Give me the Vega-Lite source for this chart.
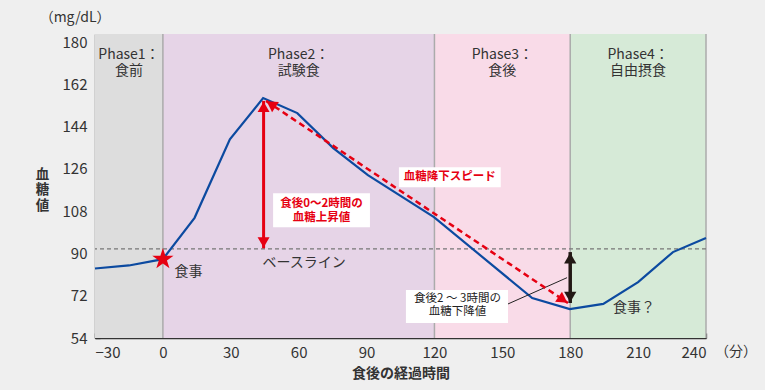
{
  "$schema": "https://vega.github.io/schema/vega-lite/v6.json",
  "width": 611,
  "height": 304,
  "autosize": {"type": "none"},
  "padding": {"left": 95, "top": 34, "right": 59, "bottom": 52},
  "background": "#efefef",
  "config": {
    "view": {"stroke": null},
    "font": "Noto Sans CJK JP",
    "axis": {
      "grid": false,
      "domainColor": "#333333",
      "domainWidth": 1.3,
      "tickColor": "#333333",
      "tickWidth": 1.3,
      "tickSize": -5,
      "labelFont": "Noto Sans CJK JP",
      "labelFontSize": 15,
      "labelColor": "#333333",
      "titleFont": "Noto Sans CJK JP",
      "titleFontSize": 14,
      "titleFontWeight": "bold",
      "titleColor": "#333333"
    }
  },
  "datasets": {
    "phases": [
      {"s": -30, "e": 0, "phase": "p1"},
      {"s": 0, "e": 120, "phase": "p2"},
      {"s": 120, "e": 180, "phase": "p3"},
      {"s": 180, "e": 240, "phase": "p4"}
    ],
    "bounds": [{"x": 0}, {"x": 120}, {"x": 180}, {"x": 240}],
    "glucose": [
      {"x": -30, "y": 83.6},
      {"x": -15, "y": 84.9},
      {"x": 0, "y": 87.6},
      {"x": 14, "y": 105.2},
      {"x": 29.6, "y": 138.6},
      {"x": 44.3, "y": 156.2},
      {"x": 59.4, "y": 149.8},
      {"x": 75.3, "y": 134.9},
      {"x": 90.6, "y": 123.4},
      {"x": 119.8, "y": 105.5},
      {"x": 163.2, "y": 71.0},
      {"x": 179.8, "y": 66.3},
      {"x": 194.6, "y": 68.5},
      {"x": 210, "y": 77.8},
      {"x": 225.4, "y": 90.6},
      {"x": 240, "y": 96.6}
    ],
    "baseline": [{"y": 92}],
    "boxes": [
      {"x": 48.7, "x2": 91.5, "y": 115.7, "y2": 101.2},
      {"x": 104.3, "x2": 149.3, "y": 126.7, "y2": 118.2},
      {"x": 107.4, "x2": 152.5, "y": 74.4, "y2": 60.4}
    ],
    "redArrow": [{"x": 44.5, "y": 155, "y2": 92.2}],
    "blackArrow": [{"x": 180, "y": 90.6, "y2": 68.9}],
    "speed": [{"x": 45.6, "y": 155, "x2": 179.0, "y2": 68.9}],
    "leader": [{"x": 152.5, "y": 68.5, "x2": 178.6, "y2": 79.7}],
    "meal": [{"x": 0, "y": 87.6}],
    "phaseLabels": [
      {"x": -15, "y": 174.6, "t": "Phase1："},
      {"x": -15, "y": 167.6, "t": "食前"},
      {"x": 60, "y": 174.6, "t": "Phase2："},
      {"x": 60, "y": 167.6, "t": "試験食"},
      {"x": 150, "y": 174.6, "t": "Phase3："},
      {"x": 150, "y": 167.6, "t": "食後"},
      {"x": 210, "y": 174.6, "t": "Phase4："},
      {"x": 210, "y": 167.6, "t": "自由摂食"}
    ],
    "redLabels": [
      {"x": 70.1, "y": 110.9, "t": "食後0～2時間の"},
      {"x": 70.1, "y": 105.1, "t": "血糖上昇値"},
      {"x": 126.8, "y": 122.6, "t": "血糖降下スピード"}
    ],
    "blackLabels": [
      {"x": 130.2, "y": 70.8, "t": "食後2 ～ 3時間の"},
      {"x": 130.2, "y": 64.9, "t": "血糖下降値"}
    ],
    "notes": [
      {"x": 62.4, "y": 85.9, "t": "ベースライン"},
      {"x": 11.3, "y": 82.0, "t": "食事"},
      {"x": 208.2, "y": 66.6, "t": "食事？"},
      {"x": -38.8, "y": 190.2, "t": "（mg/dL）"},
      {"x": 253.3, "y": 48.0, "t": "（分）"}
    ]
  },
  "layer": [
    {
      "data": {"name": "phases"},
      "mark": {"type": "rect"},
      "encoding": {
        "x": {"field": "s", "type": "quantitative", "scale": {"domain": [-30, 240], "nice": false, "zero": false},
          "axis": {"values": [-30, 0, 30, 60, 90, 120, 150, 180, 210, 240], "title": "食後の経過時間",
            "labelPadding": 12, "titlePadding": 6,
            "labelExpr": "datum.value < 0 ? '−' + abs(datum.value) : '' + datum.value"}},
        "x2": {"field": "e"},
        "color": {"field": "phase", "type": "nominal", "legend": null,
          "scale": {"domain": ["p1", "p2", "p3", "p4"], "range": ["#dddddd", "#e6d4e7", "#f9dbe8", "#d6ead7"]}}
      }
    },
    {
      "data": {"name": "bounds"},
      "mark": {"type": "rule", "color": "#ababab", "strokeWidth": 1.5},
      "encoding": {"x": {"field": "x", "type": "quantitative", "title": "食後の経過時間"}}
    },
    {
      "data": {"name": "baseline"},
      "mark": {"type": "rule", "color": "#777777", "strokeWidth": 1.3, "strokeDash": [4, 3]},
      "encoding": {"y": {"field": "y", "type": "quantitative", "scale": {"domain": [54, 183.5], "nice": false, "zero": false},
          "axis": {"values": [54, 72, 90, 108, 126, 144, 162, 180], "title": ["血", "糖", "値"],
            "titleAngle": 0, "titleX": -53, "titleY": 133, "titleAlign": "center", "titleBaseline": "top",
            "titleFontSize": 13.5, "titleLineHeight": 15.5, "labelPadding": 13}}}
    },
    {
      "data": {"name": "glucose"},
      "mark": {"type": "line", "color": "#0c4aa0", "strokeWidth": 2.2},
      "encoding": {
        "x": {"field": "x", "type": "quantitative", "title": "食後の経過時間"},
        "y": {"field": "y", "type": "quantitative", "title": ["血", "糖", "値"]}
      }
    },
    {
      "data": {"name": "boxes"},
      "mark": {"type": "rect", "color": "#ffffff"},
      "encoding": {
        "x": {"field": "x", "type": "quantitative", "title": "食後の経過時間"},
        "x2": {"field": "x2"},
        "y": {"field": "y", "type": "quantitative", "title": ["血", "糖", "値"]},
        "y2": {"field": "y2"}
      }
    },
    {
      "data": {"name": "leader"},
      "mark": {"type": "rule", "color": "#222222", "strokeWidth": 1},
      "encoding": {
        "x": {"field": "x", "type": "quantitative", "title": "食後の経過時間"},
        "x2": {"field": "x2"},
        "y": {"field": "y", "type": "quantitative", "title": ["血", "糖", "値"]},
        "y2": {"field": "y2"}
      }
    },
    {
      "data": {"name": "speed"},
      "mark": {"type": "rule", "color": "#e60012", "strokeWidth": 2.5, "strokeDash": [6, 4]},
      "encoding": {
        "x": {"field": "x", "type": "quantitative", "title": "食後の経過時間"},
        "x2": {"field": "x2"},
        "y": {"field": "y", "type": "quantitative", "title": ["血", "糖", "値"]},
        "y2": {"field": "y2"}
      }
    },
    {
      "data": {"name": "speed"},
      "mark": {"type": "point", "shape": "triangle-up", "filled": true, "color": "#e60012", "opacity": 1, "size": 150, "angle": 123.8, "xOffset": -5, "yOffset": -3.3},
      "encoding": {
        "x": {"field": "x2", "type": "quantitative", "title": "食後の経過時間"},
        "y": {"field": "y2", "type": "quantitative", "title": ["血", "糖", "値"]}
      }
    },
    {
      "data": {"name": "speed"},
      "mark": {"type": "point", "shape": "triangle-up", "filled": true, "color": "#e60012", "opacity": 1, "size": 150, "angle": 303.8, "xOffset": 5, "yOffset": 3.3},
      "encoding": {
        "x": {"field": "x", "type": "quantitative", "title": "食後の経過時間"},
        "y": {"field": "y", "type": "quantitative", "title": ["血", "糖", "値"]}
      }
    },
    {
      "data": {"name": "redArrow"},
      "mark": {"type": "rule", "color": "#e60012", "strokeWidth": 3},
      "encoding": {
        "x": {"field": "x", "type": "quantitative", "title": "食後の経過時間"},
        "y": {"field": "y", "type": "quantitative", "title": ["血", "糖", "値"]},
        "y2": {"field": "y2"}
      }
    },
    {
      "data": {"name": "redArrow"},
      "mark": {"type": "point", "shape": "triangle-up", "filled": true, "color": "#e60012", "opacity": 1, "size": 144, "yOffset": 6},
      "encoding": {
        "x": {"field": "x", "type": "quantitative", "title": "食後の経過時間"},
        "y": {"field": "y", "type": "quantitative", "title": ["血", "糖", "値"]}
      }
    },
    {
      "data": {"name": "redArrow"},
      "mark": {"type": "point", "shape": "triangle-down", "filled": true, "color": "#e60012", "opacity": 1, "size": 144, "yOffset": -6},
      "encoding": {
        "x": {"field": "x", "type": "quantitative", "title": "食後の経過時間"},
        "y": {"field": "y2", "type": "quantitative", "title": ["血", "糖", "値"]}
      }
    },
    {
      "data": {"name": "blackArrow"},
      "mark": {"type": "rule", "color": "#231815", "strokeWidth": 3.5},
      "encoding": {
        "x": {"field": "x", "type": "quantitative", "title": "食後の経過時間"},
        "y": {"field": "y", "type": "quantitative", "title": ["血", "糖", "値"]},
        "y2": {"field": "y2"}
      }
    },
    {
      "data": {"name": "blackArrow"},
      "mark": {"type": "point", "shape": "triangle-up", "filled": true, "color": "#231815", "opacity": 1, "size": 150, "yOffset": 6},
      "encoding": {
        "x": {"field": "x", "type": "quantitative", "title": "食後の経過時間"},
        "y": {"field": "y", "type": "quantitative", "title": ["血", "糖", "値"]}
      }
    },
    {
      "data": {"name": "blackArrow"},
      "mark": {"type": "point", "shape": "triangle-down", "filled": true, "color": "#231815", "opacity": 1, "size": 150, "yOffset": -6},
      "encoding": {
        "x": {"field": "x", "type": "quantitative", "title": "食後の経過時間"},
        "y": {"field": "y2", "type": "quantitative", "title": ["血", "糖", "値"]}
      }
    },
    {
      "data": {"name": "meal"},
      "mark": {"type": "point", "shape": "M0,-1L0.2245,-0.309L0.9511,-0.309L0.3633,0.118L0.5878,0.809L0,0.382L-0.5878,0.809L-0.3633,0.118L-0.9511,-0.309L-0.2245,-0.309Z", "filled": true, "color": "#e60012", "opacity": 1, "size": 500},
      "encoding": {
        "x": {"field": "x", "type": "quantitative", "title": "食後の経過時間"},
        "y": {"field": "y", "type": "quantitative", "title": ["血", "糖", "値"]}
      }
    },
    {
      "data": {"name": "phaseLabels"},
      "mark": {"type": "text", "fontSize": 14, "color": "#333333", "align": "center", "baseline": "middle"},
      "encoding": {
        "x": {"field": "x", "type": "quantitative", "title": "食後の経過時間"},
        "y": {"field": "y", "type": "quantitative", "title": ["血", "糖", "値"]},
        "text": {"field": "t"}
      }
    },
    {
      "data": {"name": "redLabels"},
      "mark": {"type": "text", "fontSize": 11.5, "fontWeight": "bold", "color": "#e60012", "align": "center", "baseline": "middle"},
      "encoding": {
        "x": {"field": "x", "type": "quantitative", "title": "食後の経過時間"},
        "y": {"field": "y", "type": "quantitative", "title": ["血", "糖", "値"]},
        "text": {"field": "t"}
      }
    },
    {
      "data": {"name": "blackLabels"},
      "mark": {"type": "text", "fontSize": 11.5, "color": "#222222", "align": "center", "baseline": "middle"},
      "encoding": {
        "x": {"field": "x", "type": "quantitative", "title": "食後の経過時間"},
        "y": {"field": "y", "type": "quantitative", "title": ["血", "糖", "値"]},
        "text": {"field": "t"}
      }
    },
    {
      "data": {"name": "notes"},
      "mark": {"type": "text", "fontSize": 14, "color": "#333333", "align": "center", "baseline": "middle"},
      "encoding": {
        "x": {"field": "x", "type": "quantitative", "title": "食後の経過時間"},
        "y": {"field": "y", "type": "quantitative", "title": ["血", "糖", "値"]},
        "text": {"field": "t"}
      }
    }
  ]
}
